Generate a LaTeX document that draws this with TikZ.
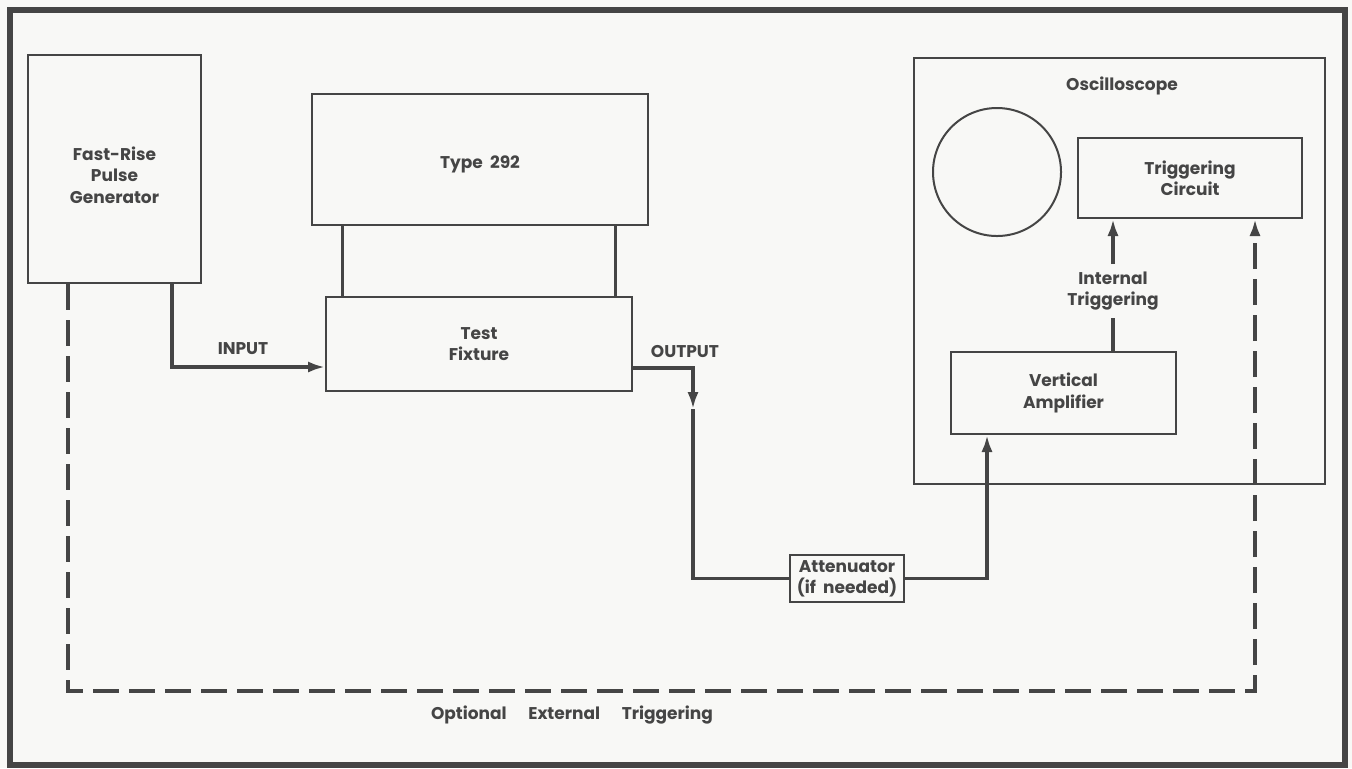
\documentclass[tikz,border=0pt]{standalone}
\usepackage{fontspec}
\setmainfont{Poppins}
\usetikzlibrary{positioning,arrows.meta,calc}
\definecolor{diagink}{HTML}{454545}
\definecolor{diagpaper}{HTML}{F8F8F6}

\begin{document}
\begin{tikzpicture}[
  x=0.5pt, y=-0.5pt,
  font=\fontsize{8.5}{10.75}\selectfont\bfseries,
  text=diagink,
  >={Latex[length=8.5pt,width=5.6pt]},
  unit/.style={draw=diagink, line width=1pt, inner sep=0pt, align=center},
  wire/.style={draw=diagink, line width=1.7pt},
  trig/.style={wire, dash pattern=on 13pt off 5pt},
  tag/.style={inner sep=1pt, align=center},
]

% ---------------- paper and frame
\fill[diagpaper] (0,0) rectangle (1352,768);
\useasboundingbox (0,0) rectangle (1352,768);
\draw[diagink, line width=2.6pt] (10,10) rectangle (1345,765);

% ---------------- pulse generator and 292 on its fixture
\node[unit, minimum width=86.5pt, minimum height=114pt] (gen) at (114.5,169) {};
\node[tag] (genlbl) at (114.5,175) {Fast-Rise\\Pulse\\Generator};
\node[unit, minimum width=168pt, minimum height=65.5pt] (t292) at (480,159.5) {};
\node[tag] (t292lbl) at (480,164) {Type\ \ 292};
\node[unit, minimum width=153pt, minimum height=47pt] (fix) at (479,344) {Test\\Fixture};
\foreach \px in {342,615} \draw[diagink, line width=1.5pt] (\px,0 |- t292.south) -- (\px,0 |- fix.north);

% ---------------- attenuator
\node[unit, minimum width=57pt, minimum height=23.5pt, font=\fontsize{8.5}{10.5}\selectfont\bfseries] (att) at (847,578.5) {Attenuator\\(if\ \ needed)};

% ---------------- oscilloscope
\node[unit, minimum width=205.5pt, minimum height=213pt] (scope) at (1119.5,271) {};
\node[tag] (scopelbl) at (1122,86) {Oscilloscope};
\node[unit, circle, minimum size=64pt] (screen) at (997,172) {};
\node[unit, minimum width=112pt, minimum height=40pt] (tc) at (1190,178) {Triggering\\Circuit};
\node[unit, minimum width=112.5pt, minimum height=41pt] (va) at (1063.5,393) {Vertical\\Amplifier};

% ---------------- signal path
\coordinate (inx) at (172,367);
\coordinate (outx) at (693,368);
\coordinate (dropmark) at (693,409);
\coordinate (vax) at (987,577);
\draw[wire, ->] (gen.south -| inx) |- (inx -| fix.west);
\node[tag] (inlbl) at (243,349) {INPUT};
\draw[wire, ->] (outx -| fix.east) -| (dropmark);
\draw[wire] (dropmark) |- (att.west);
\node[tag] (outlbl) at (685,351) {OUTPUT};
\draw[wire, ->] (att.east) -| (vax |- va.south);

% ---------------- internal triggering
\node[tag, inner ysep=3.5pt] (intlbl) at (1113,291) {Internal\\Triggering};
\draw[wire] (va.north -| intlbl) -- (intlbl.south);
\draw[wire, ->] (intlbl.north) -- (tc.south -| intlbl);

% ---------------- optional external triggering
\coordinate (trigL) at (68,691);
\coordinate (trigR) at (1255,691);
\draw[trig, ->] (gen.south -| trigL) -- (trigL) -- (trigR) -- (trigR |- tc.south);
\node[tag] (extlbl) at (572,715) {Optional\hspace{9pt} External\hspace{9pt} Triggering};

\end{tikzpicture}
\end{document}
